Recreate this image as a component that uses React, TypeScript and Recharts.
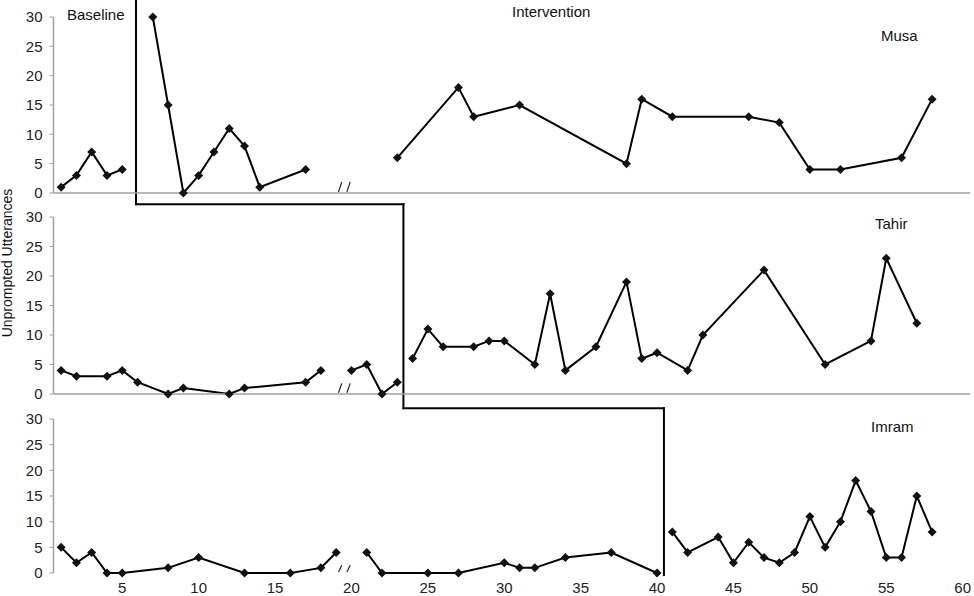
import React from "react";
import { LineChart, Line, XAxis, YAxis, ReferenceLine } from "recharts";

// session numbers and unprompted utterance counts
const musaBaseSessions = [1, 2, 3, 4, 5];
const musaBaseValues = [1, 3, 7, 3, 4];
const musaInt1Sessions = [7, 8, 9, 10, 11, 12, 13, 14, 17];
const musaInt1Values = [30, 15, 0, 3, 7, 11, 8, 1, 4];
const musaInt2Sessions = [23, 27, 28, 31, 38, 39, 41, 46, 48, 50, 52, 56, 58];
const musaInt2Values = [6, 18, 13, 15, 5, 16, 13, 13, 12, 4, 4, 6, 16];

const tahirBase1Sessions = [1, 2, 4, 5, 6, 8, 9, 12, 13, 17, 18];
const tahirBase1Values = [4, 3, 3, 4, 2, 0, 1, 0, 1, 2, 4];
const tahirBase2Sessions = [20, 21, 22, 23];
const tahirBase2Values = [4, 5, 0, 2];
const tahirIntSessions = [24, 25, 26, 28, 29, 30, 32, 33, 34, 36, 38, 39, 40, 42, 43, 47, 51, 54, 55, 57];
const tahirIntValues = [6, 11, 8, 8, 9, 9, 5, 17, 4, 8, 19, 6, 7, 4, 10, 21, 5, 9, 23, 12];

const imramBase1Sessions = [1, 2, 3, 4, 5, 8, 10, 13, 16, 18, 19];
const imramBase1Values = [5, 2, 4, 0, 0, 1, 3, 0, 0, 1, 4];
const imramBase2Sessions = [21, 22, 25, 27, 30, 31, 32, 34, 37, 40];
const imramBase2Values = [4, 0, 0, 0, 2, 1, 1, 3, 4, 0];
const imramIntSessions = [41, 42, 44, 45, 46, 47, 48, 49, 50, 51, 52, 53, 54, 55, 56, 57, 58];
const imramIntValues = [8, 4, 7, 2, 6, 3, 2, 4, 11, 5, 10, 18, 12, 3, 3, 15, 8];

const xLabelTicks = [5, 10, 15, 20, 25, 30, 35, 40, 45, 50, 55, 60];
const yTicks = [0, 5, 10, 15, 20, 25, 30];
const minorTicks = Array.from({ length: 61 }, (_, i) => i + 0.5);

const FONT = '"Liberation Sans", Arial, sans-serif';
const AXIS = "#a0a0a0";
const X_DOMAIN: [number, number] = [0.5, 60.5];

type Pt = { x: number; y: number };
const pts = (xs: number[], ys: number[]): Pt[] => xs.map((x, i) => ({ x, y: ys[i] }));

function Diamond(props: any) {
  const { cx, cy, index } = props;
  if (cx == null || cy == null) return null;
  const r = 4.5;
  return (
    <path
      key={`dot-${index}`}
      d={`M${cx},${cy - r}L${cx + r},${cy}L${cx},${cy + r}L${cx - r},${cy}Z`}
      fill="#111"
    />
  );
}

type Seg = [Pt, Pt];

interface PanelProps {
  top: number;
  height: number;
  marginTop: number;
  axisHeight: number;
  series: Pt[][];
  phase: Seg[];
  breakMark: Seg[];
  showLabels?: boolean;
}

function Panel({ top, height, marginTop, axisHeight, series, phase, breakMark, showLabels }: PanelProps) {
  return (
    <div style={{ position: "absolute", left: 0, top }}>
      <LineChart
        width={974}
        height={height}
        margin={{ top: marginTop, right: 3.7, bottom: 0, left: 23.5 }}
      >
        <XAxis
          xAxisId="t"
          type="number"
          dataKey="x"
          domain={X_DOMAIN}
          ticks={minorTicks}
          interval={0}
          tick={false}
          tickSize={4}
          height={axisHeight}
          axisLine={{ stroke: AXIS, strokeWidth: 1.5 }}
          tickLine={{ stroke: AXIS }}
        />
        {showLabels && (
          <XAxis
            xAxisId="l"
            type="number"
            dataKey="x"
            domain={X_DOMAIN}
            ticks={xLabelTicks}
            interval={0}
            height={23}
            axisLine={false}
            tickLine={false}
            tickSize={0}
            tickMargin={9}
            tick={{ fill: "#222", fontSize: 15, fontFamily: FONT }}
            allowDataOverflow
          />
        )}
        <YAxis
          type="number"
          domain={[0, 30]}
          ticks={yTicks}
          interval={0}
          width={30}
          tickSize={4}
          tickMargin={7}
          axisLine={{ stroke: AXIS, strokeWidth: 1.5 }}
          tickLine={{ stroke: AXIS }}
          tick={{ fill: "#222", fontSize: 15, fontFamily: FONT }}
        />
        {series.map((data, i) => (
          <Line
            key={i}
            xAxisId="t"
            data={data}
            dataKey="y"
            stroke="#000"
            strokeWidth={2}
            dot={Diamond}
            activeDot={false}
            isAnimationActive={false}
          />
        ))}
        {phase.map((seg, i) => (
          <ReferenceLine
            key={`p${i}`}
            xAxisId="t"
            segment={seg}
            stroke="#000"
            strokeWidth={2}
            strokeLinecap="square"
            ifOverflow="visible"
          />
        ))}
        {breakMark.map((seg, i) => (
          <ReferenceLine
            key={`b${i}`}
            xAxisId="t"
            segment={seg}
            stroke="#222"
            strokeWidth={1.2}
            ifOverflow="visible"
          />
        ))}
      </LineChart>
    </div>
  );
}

const breakAt = (h: number): Seg[] => [
  [{ x: 19.15, y: 0.2 }, { x: 19.37, y: h }],
  [{ x: 19.7, y: 0.2 }, { x: 19.92, y: h }],
];

export default function App() {
  return (
    <div style={{ position: "absolute", left: 0, top: 0, width: 974, height: 596, background: "#fff", fontFamily: FONT }}>
      <style>{`.recharts-surface{overflow:visible}`}</style>
      <Panel
        top={0}
        height={200}
        marginTop={17}
        axisHeight={7}
        series={[
          pts(musaBaseSessions, musaBaseValues),
          pts(musaInt1Sessions, musaInt1Values),
          pts(musaInt2Sessions, musaInt2Values),
        ]}
        phase={[
          [{ x: 5.9, y: 33 }, { x: 5.9, y: -1.9 }],
          [{ x: 5.9, y: -1.9 }, { x: 23.4, y: -1.9 }],
        ]}
        breakMark={breakAt(1.9)}
      />
      <Panel
        top={200}
        height={200}
        marginTop={17}
        axisHeight={6}
        series={[
          pts(tahirBase1Sessions, tahirBase1Values),
          pts(tahirBase2Sessions, tahirBase2Values),
          pts(tahirIntSessions, tahirIntValues),
        ]}
        phase={[
          [{ x: 23.4, y: 32.2 }, { x: 23.4, y: -2.4 }],
          [{ x: 23.4, y: -2.4 }, { x: 40.45, y: -2.4 }],
        ]}
        breakMark={breakAt(1.8)}
      />
      <Panel
        top={400}
        height={196}
        marginTop={19}
        axisHeight={0}
        showLabels
        series={[
          pts(imramBase1Sessions, imramBase1Values),
          pts(imramBase2Sessions, imramBase2Values),
          pts(imramIntSessions, imramIntValues),
        ]}
        phase={[[{ x: 40.45, y: 32.1 }, { x: 40.45, y: -0.4 }]]}
        breakMark={breakAt(1.5)}
      />
      <svg
        width={974}
        height={596}
        style={{ position: "absolute", left: 0, top: 0, pointerEvents: "none" }}
        fontFamily={FONT}
        fontSize={15}
        fill="#111"
      >
        <text x={67} y={20}>Baseline</text>
        <text x={512} y={17}>Intervention</text>
        <text x={881} y={41}>Musa</text>
        <text x={875} y={229}>Tahir</text>
        <text x={871} y={432}>Imram</text>
        <text x={12} y={263} fontSize={14} textAnchor="middle" transform="rotate(-90 12 263)">
          Unprompted Utterances
        </text>
      </svg>
    </div>
  );
}
